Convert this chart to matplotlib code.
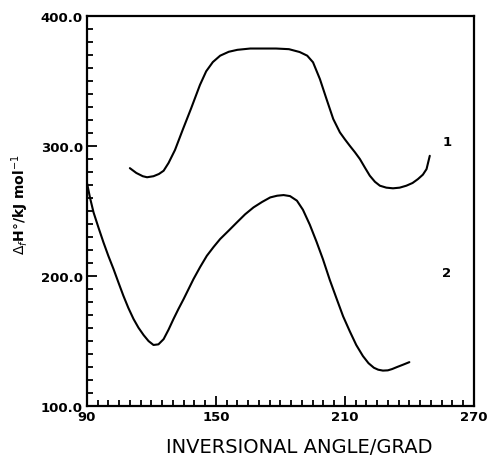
#!/usr/bin/env python3
"""Heat of formation vs. inversional angle, curves 1 and 2."""
import matplotlib

matplotlib.use("Agg")
import matplotlib.pyplot as plt
from matplotlib.ticker import MultipleLocator, FormatStrFormatter

# curve 1
angle_1 = [110.0, 113.0, 116.0, 118.0, 121.0, 123.5, 125.7, 128.0, 131.0, 134.7, 138.5, 142.6,
           145.5, 148.6, 152.0, 156.0, 160.0, 166.0, 172.0, 178.0, 184.0, 189.0, 192.5, 195.2,
           198.4, 201.5, 204.6, 207.7, 210.0, 212.3, 214.7, 217.0, 219.3, 221.6, 224.0, 226.3,
           229.3, 232.4, 235.5, 238.6, 241.5, 244.0, 246.3, 248.0, 249.5]
dh_1 = [283.0, 279.3, 276.8, 276.0, 276.8, 278.5, 281.0, 287.0, 297.0, 313.0, 329.0, 347.0,
        357.5, 364.6, 369.5, 372.5, 374.0, 375.0, 375.0, 375.0, 374.5, 372.3, 369.5, 364.4,
        351.5, 336.0, 320.8, 310.5, 305.2, 300.2, 295.2, 290.0, 283.5, 277.2, 272.5, 269.5,
        268.0, 267.5, 268.0, 269.5, 271.6, 274.6, 278.0, 282.3, 292.5]

# curve 2
angle_2 = [90.0, 91.5, 93.1, 95.4, 97.7, 100.0, 102.4, 104.7, 107.0, 109.3, 111.7, 114.0,
           116.4, 118.7, 121.0, 123.3, 125.7, 128.0, 130.3, 132.6, 135.0, 137.3, 139.6, 142.7,
           145.8, 149.0, 152.0, 156.0, 159.8, 163.6, 167.5, 171.5, 175.3, 178.5, 181.5, 184.5,
           187.7, 190.5, 193.7, 196.8, 199.8, 203.0, 206.3, 209.2, 212.3, 215.3, 218.4, 221.0,
           223.5, 225.5, 227.7, 230.0, 232.0, 234.2, 237.0, 240.0]
dh_2 = [272.0, 260.0, 249.0, 237.3, 226.0, 215.5, 205.4, 195.0, 184.8, 175.5, 167.0, 160.3,
        154.6, 150.0, 147.0, 147.5, 151.5, 158.8, 167.0, 174.7, 182.3, 190.0, 197.7, 207.0,
        215.6, 222.5, 228.5, 235.0, 241.3, 247.5, 252.8, 257.0, 260.5, 261.8, 262.3, 261.5,
        258.0, 251.0, 239.5, 226.5, 213.0, 197.0, 182.0, 169.0, 157.5, 147.0, 138.5, 133.0,
        129.5, 128.0, 127.3, 127.5, 128.5, 130.0, 131.8, 133.8]

curve_labels = ["1", "2"]
label_pos = [(257.4, 303.8), (257.4, 203.0)]

x_ticks = [90, 150, 210, 270]
y_ticks = [100.0, 200.0, 300.0, 400.0]

fig = plt.figure(figsize=(4.88, 4.60), dpi=100)
ax = fig.add_axes([0.178, 0.115, 0.793, 0.848])

ax.plot(angle_1, dh_1, color="black", lw=1.5, solid_capstyle="round", solid_joinstyle="round")
ax.plot(angle_2, dh_2, color="black", lw=1.5, solid_capstyle="round", solid_joinstyle="round")
for txt, (x, y) in zip(curve_labels, label_pos):
    ax.text(x, y, txt, fontsize=9.5, fontweight="bold", ha="center", va="center")

ax.set_xlim(90, 270)
ax.set_ylim(100, 400)
ax.set_xticks(x_ticks)
ax.set_yticks(y_ticks)
ax.xaxis.set_minor_locator(MultipleLocator(5))
ax.yaxis.set_minor_locator(MultipleLocator(10))
ax.yaxis.set_major_formatter(FormatStrFormatter("%.1f"))
ax.tick_params(which="both", direction="in", top=False, right=False, width=1.3)
ax.tick_params(which="major", length=7, labelsize=9.5, pad=3)
ax.tick_params(which="minor", length=4)
for lab in ax.get_xticklabels() + ax.get_yticklabels():
    lab.set_fontweight("bold")
for sp in ax.spines.values():
    sp.set_linewidth(1.6)

ax.set_xlabel("INVERSIONAL ANGLE/GRAD", fontsize=14)
ax.xaxis.set_label_coords(0.55, -0.103)
ax.xaxis.label.set_va("center")
ax.set_ylabel(r"$\Delta_f$H$°$/kJ mol$^{-1}$", fontsize=10, fontweight="bold")
ax.yaxis.set_label_coords(-0.172, 0.52)
ax.yaxis.label.set_va("center")

fig.savefig("out.png", dpi=100)
